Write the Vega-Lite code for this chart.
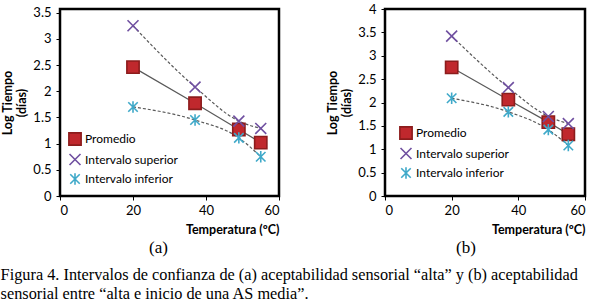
{
  "$schema": "https://vega.github.io/schema/vega-lite/v6.json",
  "padding": {"left": 0, "top": 1, "right": 0, "bottom": 2},
  "background": "white",
  "title": {
    "text": ["Figura 4. Intervalos de confianza de (a) aceptabilidad sensorial “alta” y (b) aceptabilidad", "sensorial entre “alta e inicio de una AS media”."],
    "orient": "bottom",
    "anchor": "start",
    "frame": "bounds",
    "font": "Liberation Serif",
    "fontSize": 16.3,
    "fontWeight": "normal",
    "lineHeight": 19,
    "offset": 10,
    "dx": 0,
    "color": "#000"
  },
  "spacing": 44,
  "resolve": {"scale": {"fill": "independent", "stroke": "independent", "shape": "independent", "size": "independent"}},
  "hconcat": [
    {
      "width": 219,
      "height": 187,
      "title": {"text": "(a)", "orient": "bottom", "anchor": "middle", "frame": "group", "font": "Liberation Serif", "fontSize": 17, "fontWeight": "normal", "offset": 4, "dx": -11, "color": "#000"},
      "data": {"values": [
        {"series": "Promedio", "temp": 20, "logt": 2.46},
        {"series": "Promedio", "temp": 37, "logt": 1.77},
        {"series": "Promedio", "temp": 49, "logt": 1.27},
        {"series": "Promedio", "temp": 55, "logt": 1.02},
        {"series": "Intervalo superior", "temp": 20, "logt": 3.25},
        {"series": "Intervalo superior", "temp": 37, "logt": 2.08},
        {"series": "Intervalo superior", "temp": 49, "logt": 1.43},
        {"series": "Intervalo superior", "temp": 55, "logt": 1.29},
        {"series": "Intervalo inferior", "temp": 20, "logt": 1.70},
        {"series": "Intervalo inferior", "temp": 37, "logt": 1.45},
        {"series": "Intervalo inferior", "temp": 49, "logt": 1.11},
        {"series": "Intervalo inferior", "temp": 55, "logt": 0.75}
      ]},
      "encoding": {
        "x": {"field": "temp", "type": "quantitative", "scale": {"domain": [0, 60], "nice": false}, "axis": {"values": [0, 20, 40, 60], "title": "Temperatura (ºC)"}},
        "y": {"field": "logt", "type": "quantitative", "scale": {"domain": [0, 3.57], "nice": false}, "axis": {"values": [0, 0.5, 1, 1.5, 2, 2.5, 3, 3.5], "format": "~g", "title": ["Log Tiempo", "(días)"]}}
      },
      "layer": [
        {"transform": [{"filter": "datum.series === 'Promedio'"}], "mark": {"type": "line", "color": "#595959", "strokeWidth": 1.2}},
        {"transform": [{"filter": "datum.series !== 'Promedio'"}], "mark": {"type": "line", "color": "#595959", "strokeWidth": 1.2, "strokeDash": [3, 2], "interpolate": "monotone"}, "encoding": {"detail": {"field": "series"}}},
        {
          "mark": {"type": "point", "opacity": 1, "strokeWidth": 1.6},
          "encoding": {
            "fill": {"field": "series", "type": "nominal", "scale": {"domain": ["Promedio", "Intervalo superior", "Intervalo inferior"], "range": ["#C0282D", "transparent", "transparent"]}, "legend": {"title": null, "orient": "bottom-left", "offset": 8}},
            "stroke": {"field": "series", "type": "nominal", "scale": {"domain": ["Promedio", "Intervalo superior", "Intervalo inferior"], "range": ["#8C1C1C", "#6F4FA0", "#3FA9C9"]}, "legend": {"title": null, "orient": "bottom-left", "offset": 8}},
            "shape": {"field": "series", "type": "nominal", "scale": {"domain": ["Promedio", "Intervalo superior", "Intervalo inferior"], "range": ["square", "M-1,-1L1,1M-1,1L1,-1", "M-1,-1L1,1M-1,1L1,-1M0,-1.2L0,1.2"]}, "legend": {"title": null, "orient": "bottom-left", "offset": 8}},
            "size": {"field": "series", "type": "nominal", "scale": {"domain": ["Promedio", "Intervalo superior", "Intervalo inferior"], "range": [150, 90, 110]}, "legend": {"title": null, "orient": "bottom-left", "offset": 8}}
          }
        }
      ]
    },
    {
      "width": 200,
      "height": 187,
      "title": {"text": "(b)", "orient": "bottom", "anchor": "middle", "frame": "group", "font": "Liberation Serif", "fontSize": 17, "fontWeight": "normal", "offset": 4, "dx": -19, "color": "#000"},
      "data": {"values": [
        {"series": "Promedio", "temp": 20, "logt": 2.75},
        {"series": "Promedio", "temp": 37, "logt": 2.06},
        {"series": "Promedio", "temp": 49, "logt": 1.58},
        {"series": "Promedio", "temp": 55, "logt": 1.32},
        {"series": "Intervalo superior", "temp": 20, "logt": 3.42},
        {"series": "Intervalo superior", "temp": 37, "logt": 2.32},
        {"series": "Intervalo superior", "temp": 49, "logt": 1.70},
        {"series": "Intervalo superior", "temp": 55, "logt": 1.55},
        {"series": "Intervalo inferior", "temp": 20, "logt": 2.09},
        {"series": "Intervalo inferior", "temp": 37, "logt": 1.80},
        {"series": "Intervalo inferior", "temp": 49, "logt": 1.42},
        {"series": "Intervalo inferior", "temp": 55, "logt": 1.08}
      ]},
      "encoding": {
        "x": {"field": "temp", "type": "quantitative", "scale": {"domain": [0, 60], "nice": false}, "axis": {"values": [0, 20, 40, 60], "title": "Temperatura (ºC)"}},
        "y": {"field": "logt", "type": "quantitative", "scale": {"domain": [0, 4], "nice": false}, "axis": {"values": [0, 0.5, 1, 1.5, 2, 2.5, 3, 3.5, 4], "format": "~g", "title": ["Log Tiempo", "(días)"]}}
      },
      "layer": [
        {"transform": [{"filter": "datum.series === 'Promedio'"}], "mark": {"type": "line", "color": "#595959", "strokeWidth": 1.2}},
        {"transform": [{"filter": "datum.series !== 'Promedio'"}], "mark": {"type": "line", "color": "#595959", "strokeWidth": 1.2, "strokeDash": [3, 2], "interpolate": "monotone"}, "encoding": {"detail": {"field": "series"}}},
        {
          "mark": {"type": "point", "opacity": 1, "strokeWidth": 1.6},
          "encoding": {
            "fill": {"field": "series", "type": "nominal", "scale": {"domain": ["Promedio", "Intervalo superior", "Intervalo inferior"], "range": ["#C0282D", "transparent", "transparent"]}, "legend": {"title": null, "orient": "bottom-left", "offset": 14}},
            "stroke": {"field": "series", "type": "nominal", "scale": {"domain": ["Promedio", "Intervalo superior", "Intervalo inferior"], "range": ["#8C1C1C", "#6F4FA0", "#3FA9C9"]}, "legend": {"title": null, "orient": "bottom-left", "offset": 14}},
            "shape": {"field": "series", "type": "nominal", "scale": {"domain": ["Promedio", "Intervalo superior", "Intervalo inferior"], "range": ["square", "M-1,-1L1,1M-1,1L1,-1", "M-1,-1L1,1M-1,1L1,-1M0,-1.2L0,1.2"]}, "legend": {"title": null, "orient": "bottom-left", "offset": 14}},
            "size": {"field": "series", "type": "nominal", "scale": {"domain": ["Promedio", "Intervalo superior", "Intervalo inferior"], "range": [150, 90, 110]}, "legend": {"title": null, "orient": "bottom-left", "offset": 14}}
          }
        }
      ]
    }
  ],
  "config": {
    "view": {"stroke": "#000", "strokeWidth": 2.5},
    "axis": {
      "grid": false,
      "domain": false,
      "tickColor": "#000",
      "tickSize": 4,
      "labelFont": "Lato",
      "labelFontSize": 13,
      "labelColor": "#000",
      "titleFont": "Lato",
      "titleFontSize": 12.5,
      "titleFontWeight": "bold",
      "titleColor": "#000"
    },
    "axisX": {"labelPadding": 4, "titleAnchor": "end", "titlePadding": 6},
    "axisY": {"labelPadding": 5, "titlePadding": 4, "titleLineHeight": 14},
    "legend": {"labelFont": "Lato", "labelFontSize": 12, "labelColor": "#000", "rowPadding": 1, "symbolStrokeWidth": 1.6, "labelOffset": 3, "padding": 0}
  }
}
